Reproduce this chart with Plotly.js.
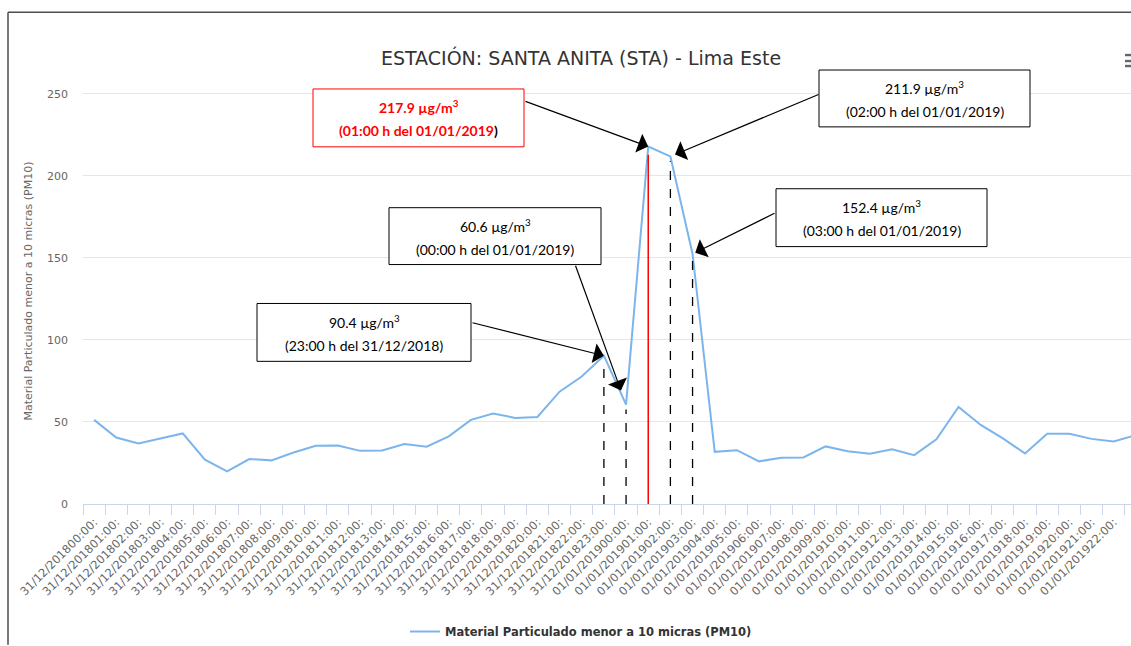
<!DOCTYPE html>
<html>
<head>
<meta charset="utf-8">
<script src="https://cdn.plot.ly/plotly-3.0.1.min.js"></script>
<style>
html,body{margin:0;padding:0;overflow:hidden;background:#fff;}
#chart{width:1131px;height:646px;}
</style>
</head>
<body>
<div id="chart"></div>
<script>
// ---- data ----
const categories = [
 "31/12/201800:00:","31/12/201801:00:","31/12/201802:00:","31/12/201803:00:","31/12/201804:00:","31/12/201805:00:",
 "31/12/201806:00:","31/12/201807:00:","31/12/201808:00:","31/12/201809:00:","31/12/201810:00:","31/12/201811:00:",
 "31/12/201812:00:","31/12/201813:00:","31/12/201814:00:","31/12/201815:00:","31/12/201816:00:","31/12/201817:00:",
 "31/12/201818:00:","31/12/201819:00:","31/12/201820:00:","31/12/201821:00:","31/12/201822:00:","31/12/201823:00:",
 "01/01/201900:00:","01/01/201901:00:","01/01/201902:00:","01/01/201903:00:","01/01/201904:00:","01/01/201905:00:",
 "01/01/201906:00:","01/01/201907:00:","01/01/201908:00:","01/01/201909:00:","01/01/201910:00:","01/01/201911:00:",
 "01/01/201912:00:","01/01/201913:00:","01/01/201914:00:","01/01/201915:00:","01/01/201916:00:","01/01/201917:00:",
 "01/01/201918:00:","01/01/201919:00:","01/01/201920:00:","01/01/201921:00:","01/01/201922:00:","01/01/201923:00:"
];
const pm10 = [
 51.3, 40.5, 36.9, 40.0, 43.0, 27.0, 19.9, 27.4, 26.6, 31.4, 35.5, 35.7,
 32.4, 32.6, 36.5, 34.9, 41.2, 51.3, 55.2, 52.5, 53.1, 68.5, 77.7, 90.4,
 60.6, 217.9, 211.9, 152.4, 31.8, 32.8, 26.0, 28.2, 28.4, 35.1, 32.2, 30.6,
 33.3, 29.8, 39.5, 59.2, 48.2, 40.0, 30.8, 42.8, 42.8, 39.7, 38.1, 42.0
];
const seriesName = "Material Particulado menor a 10 micras (PM10)";
const chartTitle = "ESTACIÓN: SANTA ANITA (STA) - Lima Este";
const yTitle = "Material Particulado menor a 10 micras (PM10)";
const yTicks = [0, 50, 100, 150, 200, 250];

// highlighted points: index, value label, time label
const callouts = [
 {i: 23, val: "90.4", time: "(23:00 h del 31/12/2018)"},
 {i: 24, val: "60.6", time: "(00:00 h del 01/01/2019)"},
 {i: 25, val: "217.9", time: "(01:00 h del 01/01/2019)"},
 {i: 26, val: "211.9", time: "(02:00 h del 01/01/2019)"},
 {i: 27, val: "152.4", time: "(03:00 h del 01/01/2019)"}
];

// ---- layout helpers (pixel -> paper) ----
const W = 1131, H = 646, L = 83, R = 0, T = 78, B = 141;
const PW = W - L - R, PH = H - T - B;
const px = x => (x - L) / PW;
const py = y => (H - B - y) / PH;
const BASE_FONT = '"DejaVu Sans", Verdana, sans-serif';

// box geometry in pixels, keyed by index
const boxes = {
 23: {x0: 257, x1: 471, y0: 304, y1: 362, tail: [471, 323], stand: 0, red: false},
 24: {x0: 389, x1: 601, y0: 208, y1: 265, tail: [575, 265], stand: 15, red: false},
 25: {x0: 313, x1: 524, y0: 89,  y1: 147, tail: [524, 101], stand: 0, red: true},
 26: {x0: 819, x1: 1030, y0: 70, y1: 127, tail: [820, 94], stand: 5, red: false},
 27: {x0: 776, x1: 987, y0: 189, y1: 247, tail: [776, 213], stand: 3, red: false}
};
const xPix = i => L + (i + 0.5) * (PW / 47.28);
const yPix = v => (H - B) - v * (PH / 259.7);

const shapes = [];
const annotations = [];

// frame
shapes.push({type: 'line', xref: 'paper', yref: 'paper', x0: px(8), x1: px(8), y0: py(12), y1: py(646), line: {color: '#4d4d4d', width: 1.5}});
shapes.push({type: 'line', xref: 'paper', yref: 'paper', x0: px(8), x1: px(1131), y0: py(12), y1: py(12), line: {color: '#4d4d4d', width: 1.5}});
// menu icon
[55, 61, 66].forEach(y => shapes.push({type: 'rect', xref: 'paper', yref: 'paper', x0: px(1125), x1: px(1131), y0: py(y - 1.2), y1: py(y + 1.2), fillcolor: '#666666', line: {width: 0}}));

callouts.forEach(c => {
 const b = boxes[c.i];
 // vertical guide line
 shapes.push({type: 'line', xref: 'x', yref: 'y', x0: c.i, x1: c.i, y0: 0, y1: pm10[c.i] - (b.red ? 5 : 3),
   line: b.red ? {color: '#ff0000', width: 1.5} : {color: '#000000', width: 1.3, dash: 'dash'}, layer: 'above'});
 // box
 shapes.push({type: 'rect', xref: 'paper', yref: 'paper', x0: px(b.x0), x1: px(b.x1), y0: py(b.y1), y1: py(b.y0),
   fillcolor: '#ffffff', line: {color: b.red ? '#ff0000' : '#000000', width: 1}, layer: 'above'});
 const cx = px((b.x0 + b.x1) / 2);
 const fnt = {family: 'Lato, "Open Sans", sans-serif', size: 14, color: b.red ? '#ff0000' : '#000000'};
 const line1 = (b.red ? '<b>' : '') + c.val + ' µg/m<sup>3</sup>' + (b.red ? '</b>' : '');
 let line2 = c.time;
 if (b.red) line2 = '<b>' + c.time.slice(0, -1) + '<span style="color:#000000">)</span></b>';
 annotations.push({xref: 'paper', yref: 'paper', x: cx, y: py(b.y0 + 18), text: line1, showarrow: false, xanchor: 'center', yanchor: 'middle', font: fnt});
 annotations.push({xref: 'paper', yref: 'paper', x: cx, y: py(b.y0 + 42), text: line2, showarrow: false, xanchor: 'center', yanchor: 'middle', font: fnt});
 // arrow
 const hx = xPix(c.i), hy = yPix(pm10[c.i]);
 annotations.push({x: c.i, y: pm10[c.i], xref: 'x', yref: 'y', text: '', showarrow: true,
   ax: b.tail[0] - hx, ay: b.tail[1] - hy, arrowhead: 1, arrowsize: 2.8, arrowwidth: 1.2, arrowcolor: '#000000', standoff: b.stand});
});

const trace = {
 x: categories, y: pm10, type: 'scatter', mode: 'lines', name: seriesName,
 line: {color: '#7cb5ec', width: 2}, hoverinfo: 'skip'
};

const layout = {
 width: W, height: H,
 margin: {l: L, r: R, t: T, b: B},
 paper_bgcolor: '#ffffff', plot_bgcolor: '#ffffff',
 font: {family: BASE_FONT, color: '#666666', size: 11},
 title: {text: chartTitle, xref: 'paper', x: px(581), xanchor: 'center', yref: 'container', y: 1 - 58 / H, yanchor: 'middle',
   font: {family: BASE_FONT, size: 19, color: '#333333'}},
 xaxis: {type: 'category', range: [-0.5, 46.78], tickangle: -45, tickson: 'boundaries', ticks: 'outside', ticklen: 10,
   tickcolor: '#ccd6eb', showline: true, linecolor: '#ccd6eb', linewidth: 1, showgrid: false, zeroline: false,
   ticklabelstandoff: 6, tickfont: {family: BASE_FONT, size: 11.5, color: '#666666'}, fixedrange: true},
 yaxis: {range: [0, 259.7], tickvals: yTicks, ticktext: yTicks.map(String), gridcolor: '#e6e6e6', zeroline: false, showline: false,
   ticks: '', ticklabelstandoff: 14, tickfont: {family: BASE_FONT, size: 11, color: '#666666'},
   title: {text: yTitle, standoff: 12, font: {family: BASE_FONT, size: 11, color: '#666666'}}, fixedrange: true},
 showlegend: true,
 legend: {orientation: 'h', x: px(405), xanchor: 'left', y: py(633), yanchor: 'middle',
   font: {family: BASE_FONT, size: 11.5, color: '#333333', weight: 'bold'}},
 shapes: shapes,
 annotations: annotations
};

Plotly.newPlot('chart', [trace], layout, {displayModeBar: false, staticPlot: true});
</script>
</body>
</html>
